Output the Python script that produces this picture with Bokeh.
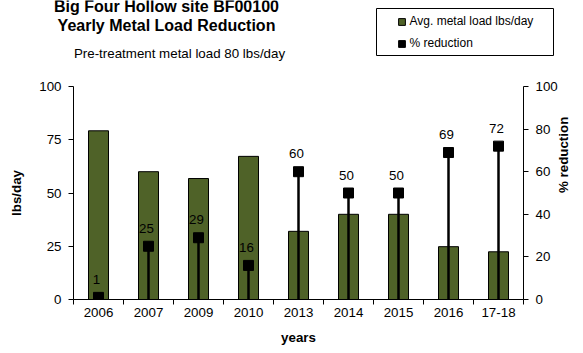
import math
from bokeh.plotting import figure
from bokeh.models import (Range1d, LinearAxis, FixedTicker, Label, Legend,
                          LegendItem, ColumnDataSource)
from bokeh.embed import file_html
from bokeh.resources import INLINE
from bokeh.core.properties import value

# ---- data ----
years = ["2006", "2007", "2009", "2010", "2013", "2014", "2015", "2016", "17-18"]
load_lbs_day = [79.2, 60, 56.8, 67.2, 32, 40, 40, 24.8, 22.4]
pct_reduction = [1, 25, 29, 16, 60, 50, 50, 69, 72]
left_ticks = [0, 25, 50, 75, 100]
right_ticks = [0, 20, 40, 60, 80, 100]

FONT = "Liberation Sans"
BAR = "#4F6228"
HEADER_H = 78
n = len(years)
xs = list(range(n))

src = ColumnDataSource(dict(
    x=xs, load=load_lbs_day, pct=pct_reduction,
    zero=[0] * n, lab=[str(v) for v in pct_reduction]))

# ---- header (titles + legend); its data units are canvas pixels ----
hdr = figure(width=583, height=HEADER_H, output_backend="svg", toolbar_location=None,
             x_range=Range1d(0, 583), y_range=Range1d(HEADER_H, 0),
             min_border=0, min_border_left=0, min_border_right=0,
             min_border_top=0, min_border_bottom=0,
             x_axis_type=None, y_axis_type=None)
hdr.outline_line_color = None
hdr.grid.visible = False
hdr.background_fill_color = "white"
hdr.border_fill_color = "white"

for txt, x, y, size, style in [
        ("Big Four Hollow site BF00100", 166, 6, "16px", "bold"),
        ("Yearly Metal Load Reduction", 166, 25, "16px", "bold"),
        ("Pre-treatment metal load 80 lbs/day", 179, 53, "13.33px", "normal")]:
    hdr.add_layout(Label(x=x, y=y, text=txt,
                         text_align="center", text_baseline="alphabetic",
                         text_font=FONT, text_font_size=size,
                         text_font_style=style, text_color="black"))

# legend frame
hdr.quad(left=[376], right=[553], top=[8], bottom=[55],
         fill_color="white", line_color="black", line_width=1)
# swatch renderers (kept outside the visible header range; used only by the legend)
leg_bar = hdr.scatter(x=[-50], y=[-50], marker="square", fill_color=BAR,
                      line_color="black", line_width=1)
leg_pct = hdr.scatter(x=[-50], y=[-50], marker="square", fill_color="black",
                      line_color="black")
legend = Legend(items=[LegendItem(label="Avg. metal load lbs/day", renderers=[leg_bar]),
                       LegendItem(label="% reduction", renderers=[leg_pct])],
                location=(392.5, HEADER_H - 51.5), padding=0, spacing=5, margin=0,
                glyph_width=17, glyph_height=17, label_height=17,
                label_standoff=0,
                border_line_color=None, background_fill_alpha=0,
                label_text_font=FONT, label_text_font_size="12px",
                label_text_color="black")
hdr.add_layout(legend, "center")

# ---- main chart ----
p = figure(width=583, height=353 - HEADER_H, output_backend="svg", toolbar_location=None,
           x_range=Range1d(-0.5, n - 0.5), y_range=Range1d(0, 100),
           min_border_left=73, min_border_right=60,
           min_border_top=86 - HEADER_H, min_border_bottom=54)
p.extra_y_ranges = {"pct": Range1d(0, 100)}
p.outline_line_color = None
p.grid.visible = False
p.background_fill_color = "white"
p.border_fill_color = "white"

xa = p.xaxis[0]
xa.ticker = FixedTicker(ticks=xs, minor_ticks=[i - 0.5 for i in range(n + 1)])
xa.major_label_overrides = {i: y for i, y in zip(xs, years)}
xa.major_tick_line_color = None
xa.major_tick_out = 5
xa.major_tick_in = 0
xa.minor_tick_out = 5
xa.minor_tick_in = 0
xa.minor_tick_line_color = "black"
xa.major_label_standoff = 3
xa.axis_label = "years"
xa.axis_label_standoff = 10

ya = p.yaxis[0]
ya.ticker = FixedTicker(ticks=left_ticks)
ya.axis_label = "lbs/day"
ya.axis_label_standoff = 12
ya.major_label_standoff = 7

ra = LinearAxis(y_range_name="pct", ticker=FixedTicker(ticks=right_ticks),
                axis_label="% reduction")
ra.axis_label_standoff = 3
ra.major_label_standoff = 7
ra.axis_label_orientation = math.pi / 2
p.add_layout(ra, "right")

for ax in (xa, ya, ra):
    ax.axis_line_color = "black"
    ax.axis_line_width = 1
    ax.major_label_text_font = FONT
    ax.major_label_text_font_size = "13.33px"
    ax.major_label_text_color = "black"
    ax.axis_label_text_font = FONT
    ax.axis_label_text_font_size = "13.33px"
    ax.axis_label_text_font_style = "bold"
    ax.axis_label_text_color = "black"
for ax in (ya, ra):
    ax.major_tick_out = 5
    ax.major_tick_in = 0
    ax.major_tick_line_color = "black"
    ax.minor_tick_line_color = None

p.vbar(x="x", top="load", width=0.4, source=src,
       fill_color=BAR, line_color="black", line_width=1)
p.segment(x0="x", y0="zero", x1="x", y1="pct", source=src, y_range_name="pct",
          line_color="black", line_width=2.5)
p.scatter(x="x", y="pct", source=src, y_range_name="pct", marker="square",
          size=10, fill_color="black", line_color="black")
p.text(x="x", y="pct", text="lab", source=src, y_range_name="pct",
       x_offset=-2, y_offset=-18, text_align="center", text_baseline="middle",
       text_font=value(FONT), text_font_size="13.33px", text_color="black")

# two independent roots, stacked vertically on the page (no frame alignment)
open("out.html", "w").write(file_html([hdr, p], INLINE))
